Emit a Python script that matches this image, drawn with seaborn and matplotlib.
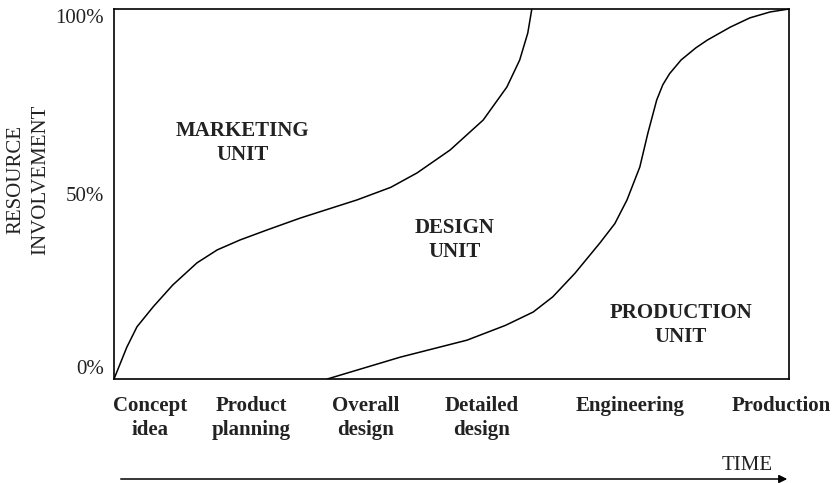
import matplotlib
matplotlib.use("Agg")
import matplotlib.pyplot as plt
import seaborn as sns
import pandas as pd

# boundary between marketing and design involvement (time %, resource %)
marketing_time = [0.0, 1.9, 3.4, 5.8, 8.7, 12.3, 15.3, 18.7, 22.7, 27.6, 36.0,
                  41.0, 44.9, 49.8, 54.7, 58.2, 60.1, 61.3, 61.9]
marketing_share = [0.0, 8.6, 14.1, 19.5, 25.4, 31.4, 34.9, 37.6, 40.3, 43.5, 48.4,
                   51.8, 55.7, 61.9, 70.0, 78.9, 86.2, 93.5, 100.0]

# boundary between design and production involvement
production_time = [31.6, 42.4, 52.3, 58.0, 62.1, 65.0, 68.3, 72.0, 74.2, 76.0, 77.9,
                   79.1, 80.4, 81.3, 82.3, 84.0, 86.2, 87.9, 91.3, 94.2, 97.2, 100.0]
production_share = [0.0, 5.9, 10.5, 14.5, 18.1, 22.2, 28.6, 36.8, 42.0, 48.4, 57.3,
                    66.5, 75.4, 79.5, 82.5, 86.2, 89.5, 91.6, 95.1, 97.6, 99.2, 100.0]

stage_labels = ["Concept\nidea", "Product\nplanning", "Overall\ndesign",
                "Detailed\ndesign", "Engineering", "Production"]
stage_pos = [5.3, 20.3, 37.3, 54.5, 76.4, 98.8]

unit_labels = ["MARKETING\nUNIT", "DESIGN\nUNIT", "PRODUCTION\nUNIT"]
unit_x = [19.0, 50.4, 84.0]
unit_y = [63.8, 37.6, 14.6]

sns.set_theme(style="white")
plt.rcParams["font.family"] = ["Liberation Serif", "DejaVu Serif"]
fs = 15

fig = plt.figure(figsize=(8.34, 4.83), dpi=100)
ax = fig.add_axes([114 / 834, 104 / 483, 675 / 834, 370 / 483])

df_m = pd.DataFrame({"time": marketing_time, "share": marketing_share})
df_p = pd.DataFrame({"time": production_time, "share": production_share})
sns.lineplot(data=df_m, x="time", y="share", sort=False, color="black", linewidth=1.1, ax=ax)
sns.lineplot(data=df_p, x="time", y="share", sort=False, color="black", linewidth=1.1, ax=ax)

ax.set_xlim(0, 100)
ax.set_ylim(0, 100)
for sp in ax.spines.values():
    sp.set_visible(True)
    sp.set_color("black")
    sp.set_linewidth(1.2)

ax.set_yticks([0, 50, 100])
ax.set_yticklabels(["0%", "50%", "100%"], fontsize=fs, color="#222222")
ax.get_yticklabels()[0].set_va("bottom")
ax.get_yticklabels()[2].set_va("top")
ax.tick_params(axis="y", length=0, pad=7)

ax.set_xticks(stage_pos)
ax.set_xticklabels(stage_labels, fontsize=fs, fontweight="bold", color="#222222",
                   linespacing=1.3)
ax.tick_params(axis="x", length=0, pad=12)
ax.set_xlabel("")
ax.set_ylabel("")

for lbl, ux, uy in zip(unit_labels, unit_x, unit_y):
    ax.text(ux, uy, lbl, ha="center", va="center", fontsize=fs, fontweight="bold",
            color="#222222", linespacing=1.3, multialignment="center")

fig.text(28.5 / 834, 1 - 180 / 483, "RESOURCE\nINVOLVEMENT", rotation=90,
         ha="center", va="center", fontsize=fs, color="#222222",
         linespacing=1.45, multialignment="center")

fig.text(773 / 834, 1 - 465 / 483, "TIME", ha="right", va="center",
         fontsize=fs, color="#222222")
fig.add_artist(matplotlib.patches.FancyArrowPatch(
    (118 / 834, 1 - 479 / 483), (790 / 834, 1 - 479 / 483),
    transform=fig.transFigure, arrowstyle="-|>", mutation_scale=12,
    color="black", linewidth=1.1))

fig.savefig("out.png", dpi=100)
